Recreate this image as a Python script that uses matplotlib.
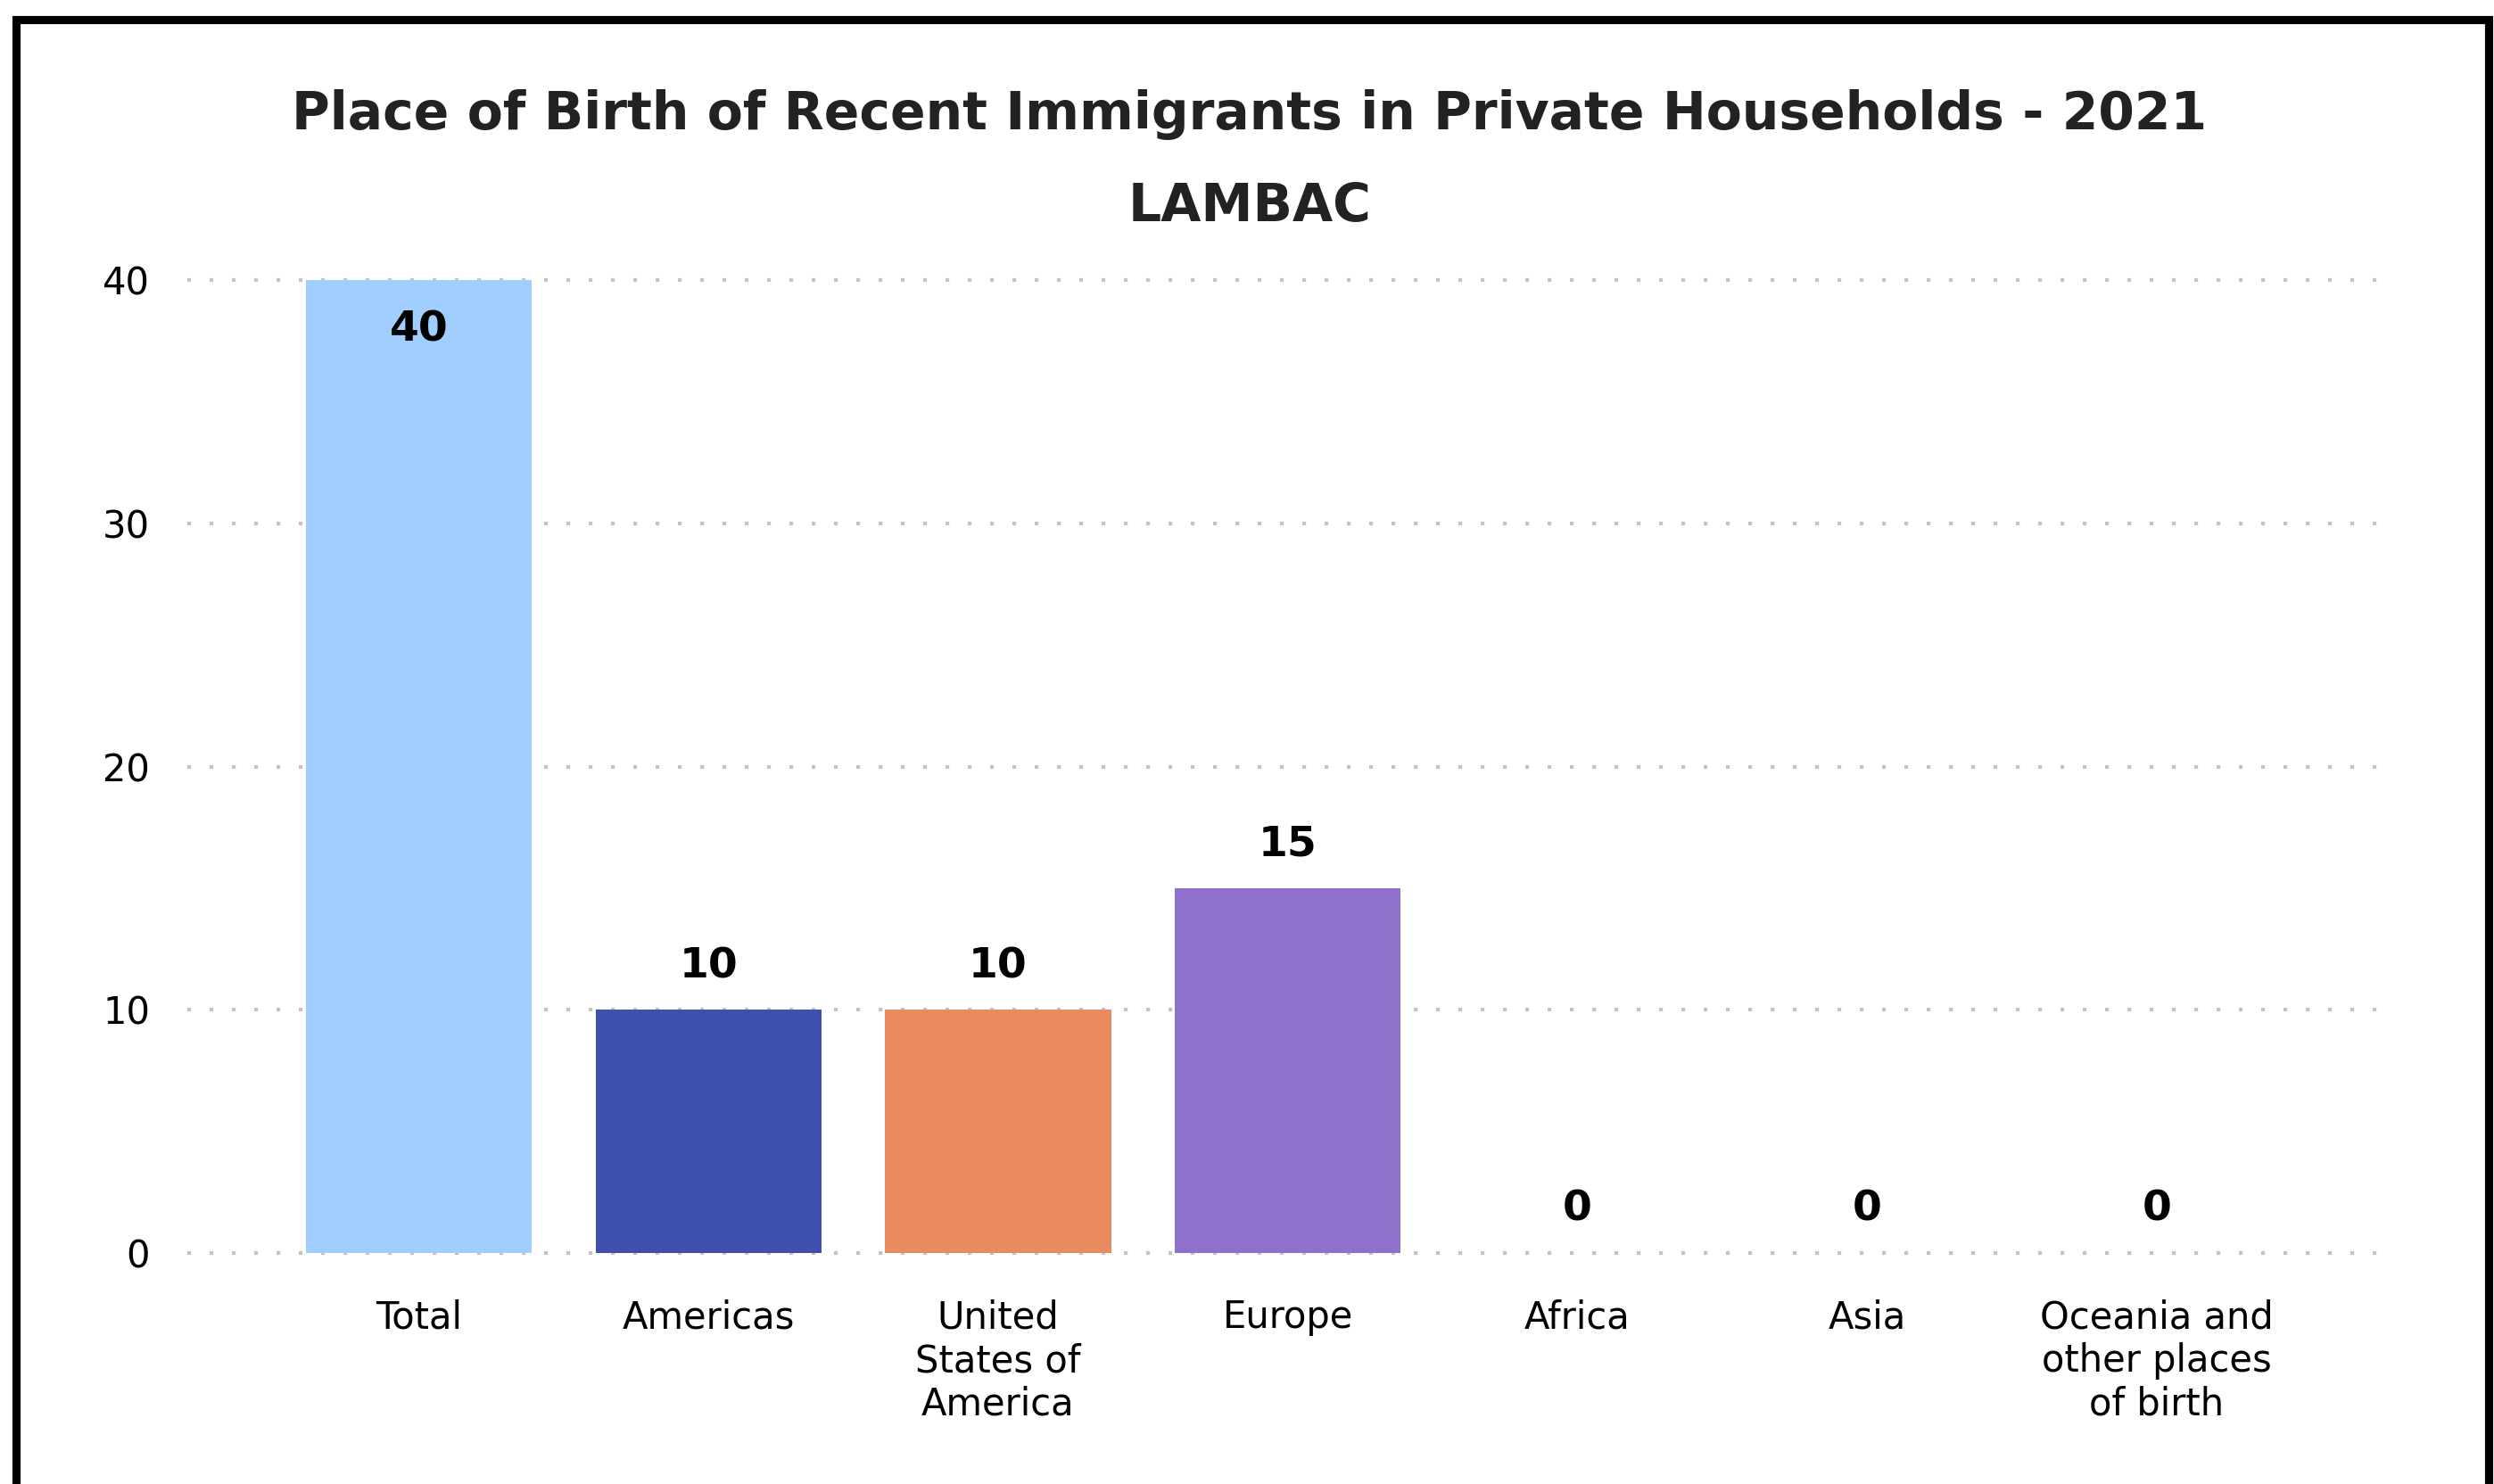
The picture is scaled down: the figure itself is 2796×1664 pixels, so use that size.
import matplotlib
matplotlib.use("Agg")
import matplotlib.pyplot as plt
from matplotlib.patches import Rectangle

plt.rcParams['font.family'] = ['DejaVu Sans']

categories = ["Total", "Americas", "United\nStates of\nAmerica", "Europe", "Africa", "Asia",
              "Oceania and\nother places\nof birth"]
values = [40, 10, 10, 15, 0, 0, 0]
colors = ["#A0CFFF", "#3F4FAE", "#EA8A60", "#8F71CB", "#A0CFFF", "#3F4FAE", "#EA8A60"]
yticks = [0, 10, 20, 30, 40]
title = "Place of Birth of Recent Immigrants in Private Households - 2021"
subtitle = "LAMBAC"

fig = plt.figure(figsize=(13.98, 8.32), dpi=200)
ax = fig.add_axes([0.075, 0.1556, 0.885, 0.6557])

x = list(range(len(categories)))
ax.bar(x, values, width=0.78, color=colors, zorder=2)

ax.set_xlim(-0.8, len(categories) - 1 + 0.82)
ax.set_ylim(0, 40)
ax.set_yticks(yticks)
ax.set_xticks(x)
ax.set_xticklabels(categories, fontsize=15, linespacing=1.2)
ax.tick_params(axis='both', length=0, colors='black', labelsize=15)
ax.tick_params(axis='y', pad=15)
ax.tick_params(axis='x', pad=18.5)
for s in ax.spines.values():
    s.set_visible(False)
ax.yaxis.grid(True, color='#c4c4c4', linewidth=1.5, linestyle=(0, (1, 5)), zorder=0)
ax.set_axisbelow(True)
for gl in ax.yaxis.get_gridlines():
    gl.set_clip_on(False)

vmax = max(values)
for xi, v in zip(x, values):
    if v >= 0.9 * vmax:
        ax.annotate(str(v), (xi, v), xytext=(0, -20), textcoords='offset points',
                    ha='center', va='center', fontsize=17, fontweight='bold', color='black')
    else:
        ax.annotate(str(v), (xi, v), xytext=(0, 17.5), textcoords='offset points',
                    ha='center', va='center', fontsize=17, fontweight='bold', color='black')

fig.text(0.501, 0.9228, title, ha='center', va='center', fontsize=21, fontweight='bold', color='#222222')
fig.text(0.501, 0.861, subtitle, ha='center', va='center', fontsize=21, fontweight='bold', color='#222222')

fig.patches.append(Rectangle((0.0063, -0.05), 0.9915, 1.037, transform=fig.transFigure,
                             fill=False, edgecolor='black', linewidth=3.3, zorder=10))

fig.savefig("out.png", dpi=200, facecolor='white')
